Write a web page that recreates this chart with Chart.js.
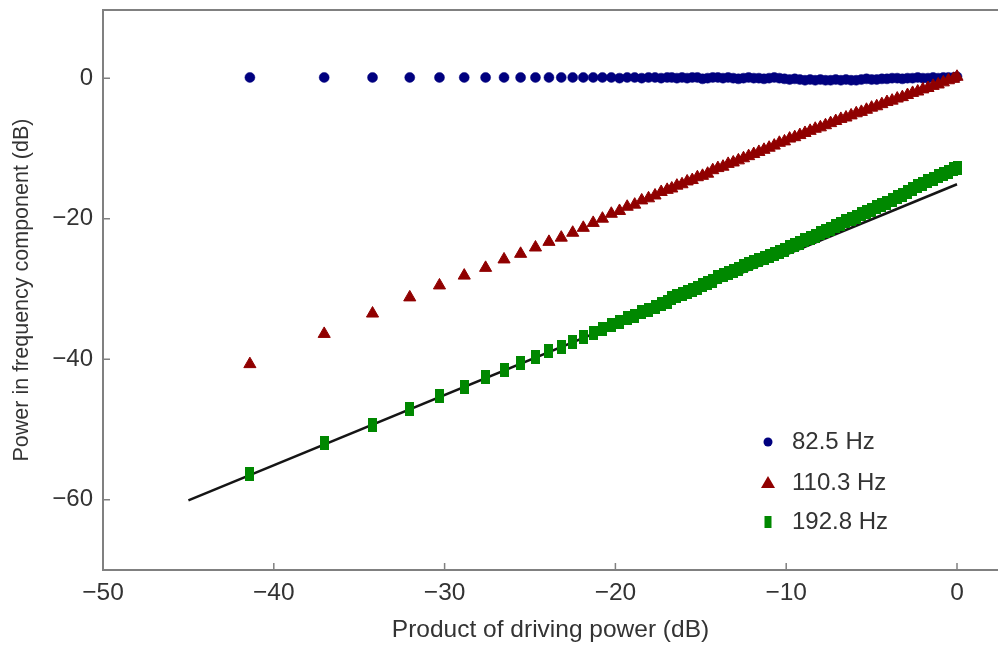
<!DOCTYPE html>
<html>
<head>
<meta charset="utf-8">
<title>Power in frequency component</title>
<script src="https://cdn.jsdelivr.net/npm/chart.js@4/dist/chart.umd.min.js"></script>
<style>
  body { margin: 0; background: #fff; }
  canvas { display: block; }
</style>
</head>
<body>
<canvas id="powerChart" width="998" height="645"></canvas>
<script>
// driving power product (dB), shared by the three frequency components
const drivePower = [
    -41.40, -37.05, -34.22, -32.04, -30.30, -28.85, -27.60, -26.52, -25.55, -24.68,
    -23.89, -23.17, -22.50, -21.88, -21.30, -20.76, -20.24, -19.76, -19.31, -18.87,
    -18.46, -18.06, -17.68, -17.32, -16.97,
    -16.7, -16.4, -16.1, -15.8, -15.5, -15.2, -14.9, -14.6, -14.3, -14.0,
    -13.7, -13.4, -13.1, -12.8, -12.5, -12.2, -11.9, -11.6, -11.3, -11.0,
    -10.7, -10.4, -10.1, -9.8, -9.5, -9.2, -8.9, -8.6, -8.3, -8.0,
    -7.7, -7.4, -7.1, -6.8, -6.5, -6.2, -5.9, -5.6, -5.3, -5.0,
    -4.7, -4.4, -4.1, -3.8, -3.5, -3.2, -2.9, -2.6, -2.3, -2.0,
    -1.7, -1.4, -1.1, -0.8, -0.5, -0.2, 0.0
];

const power825 = [
    0.1, 0.1, 0.1, 0.1, 0.1, 0.1, 0.1, 0.1, 0.1, 0.1,
    0.1, 0.1, 0.1, 0.1, 0.1, 0.1, 0.1, 0.0, 0.1, 0.1,
    0.0, 0.1, 0.1, 0.0, 0.1,
    0.1, 0.0, 0.1, 0.0, 0.1, 0.1, -0.1, 0.0, 0.1, 0.1,
    0.0, 0.1, 0.0, -0.1, 0.0, 0.1, 0.0, 0.0, -0.1, 0.0,
    0.1, 0.0, -0.1, -0.2, -0.1, -0.2, -0.3, -0.2, -0.3, -0.2,
    -0.3, -0.3, -0.2, -0.3, -0.2, -0.3, -0.3, -0.2, -0.1, -0.2,
    -0.2, -0.1, -0.1, 0.0, 0.0, -0.1, 0.0, 0.0, 0.1, 0.0,
    0.0, 0.1, 0.0, 0.1, 0.1, 0.1, 0.2
];

const power1103 = [
    -40.7, -36.4, -33.5, -31.2, -29.5, -28.1, -27.0, -25.8, -25.0, -24.1,
    -23.3, -22.7, -22.0, -21.3, -20.6, -20.0, -19.3, -18.9, -18.3, -18.0,
    -17.4, -17.1, -16.7, -16.2, -15.9,
    -15.7, -15.3, -15.1, -14.7, -14.5, -14.1, -13.9, -13.6, -13.1, -12.8,
    -12.6, -12.2, -12.0, -11.7, -11.4, -11.1, -10.8, -10.5, -10.2, -9.9,
    -9.6, -9.2, -9.0, -8.6, -8.4, -8.1, -7.8, -7.5, -7.2, -7.0,
    -6.7, -6.4, -6.1, -5.8, -5.6, -5.3, -5.0, -4.8, -4.5, -4.2,
    -4.0, -3.7, -3.4, -3.2, -2.9, -2.7, -2.4, -2.1, -1.9, -1.6,
    -1.4, -1.1, -0.9, -0.6, -0.3, -0.1, 0.2
];

const power1928 = [
    -56.3, -51.9, -49.4, -47.1, -45.3, -43.9, -42.6, -41.5, -40.5, -39.7,
    -38.9, -38.2, -37.5, -36.9, -36.3, -35.7, -35.1, -34.7, -34.2, -33.8,
    -33.3, -33.0, -32.5, -32.2, -31.8,
    -31.3, -31.0, -30.7, -30.4, -30.1, -29.8, -29.5, -29.1, -28.8, -28.3,
    -28.0, -27.7, -27.4, -27.1, -26.8, -26.5, -26.2, -25.9, -25.6, -25.3,
    -25.0, -24.7, -24.4, -24.0, -23.7, -23.4, -23.1, -22.8, -22.4, -22.1,
    -21.8, -21.4, -21.1, -20.8, -20.4, -20.1, -19.8, -19.4, -19.1, -18.7,
    -18.4, -18.0, -17.7, -17.3, -16.9, -16.6, -16.2, -15.8, -15.4, -15.1,
    -14.7, -14.3, -13.9, -13.6, -13.3, -13.0, -12.8
];

// straight reference line under the 192.8 Hz points
const fitX = [-45, 0];
const fitY = [-60.1, -15.1];

const seriesLabels = ['82.5 Hz', '110.3 Hz', '192.8 Hz'];
const xTickValues = [-50, -40, -30, -20, -10, 0];
const yTickValues = [-60, -40, -20, 0];

const BLUE = '#00007f';
const RED = '#900000';
const GREEN = '#008800';
const AXIS_GREY = '#808080';
const TEXT = '#333333';
const FONT = "'Liberation Sans', Arial, sans-serif";

function toPoints(xs, ys) {
    return xs.map((x, i) => ({x: x, y: ys[i]}));
}

function makeBar(w, h, color) {
    const c = document.createElement('canvas');
    c.width = w;
    c.height = h;
    const g = c.getContext('2d');
    g.fillStyle = color;
    g.fillRect(0, 0, w, h);
    return c;
}

function minusLabel(v) {
    return v < 0 ? '\u2212' + Math.abs(v) : String(v);
}

// ticks pointing into the plot, the top frame line and the legend
const frameAndLegend = {
    id: 'frameAndLegend',
    afterDraw(chart) {
        const {ctx, chartArea: a, scales: {x, y}} = chart;
        ctx.save();
        ctx.strokeStyle = AXIS_GREY;
        ctx.lineWidth = 2;
        ctx.beginPath();
        ctx.moveTo(a.left, a.top);
        ctx.lineTo(a.right, a.top);
        ctx.stroke();

        ctx.lineWidth = 1.5;
        ctx.beginPath();
        xTickValues.forEach(v => {
            const px = x.getPixelForValue(v);
            ctx.moveTo(px, a.bottom);
            ctx.lineTo(px, a.bottom - 7);
        });
        yTickValues.forEach(v => {
            const py = y.getPixelForValue(v);
            ctx.moveTo(a.left, py);
            ctx.lineTo(a.left + 7, py);
        });
        ctx.stroke();

        // legend, lower right of the plot
        const mx = 768;
        const rows = [442, 483, 522];
        ctx.fillStyle = BLUE;
        ctx.beginPath();
        ctx.arc(mx, rows[0], 4.5, 0, Math.PI * 2);
        ctx.fill();

        ctx.fillStyle = RED;
        ctx.beginPath();
        ctx.moveTo(mx, rows[1] - 7);
        ctx.lineTo(mx + 7, rows[1] + 5);
        ctx.lineTo(mx - 7, rows[1] + 5);
        ctx.closePath();
        ctx.fill();

        ctx.fillStyle = GREEN;
        ctx.fillRect(mx - 3.5, rows[2] - 6, 7, 12);

        ctx.fillStyle = TEXT;
        ctx.font = '24px ' + FONT;
        ctx.textBaseline = 'middle';
        ctx.textAlign = 'left';
        seriesLabels.forEach((label, i) => {
            ctx.fillText(label, mx + 24, rows[i]);
        });
        ctx.restore();
    }
};

document.addEventListener('DOMContentLoaded', () => {
    const ctx = document.getElementById('powerChart').getContext('2d');

    new Chart(ctx, {
        type: 'scatter',
        data: {
            datasets: [
                {
                    label: seriesLabels[1],
                    data: toPoints(drivePower, power1103),
                    pointStyle: 'triangle',
                    pointRadius: 7,
                    pointBackgroundColor: RED,
                    pointBorderColor: RED,
                    pointBorderWidth: 1
                },
                {
                    label: seriesLabels[0],
                    data: toPoints(drivePower, power825),
                    pointStyle: 'circle',
                    pointRadius: 5,
                    pointBackgroundColor: BLUE,
                    pointBorderColor: BLUE,
                    pointBorderWidth: 0.5
                },
                {
                    label: seriesLabels[2],
                    data: toPoints(drivePower, power1928),
                    pointStyle: makeBar(9, 14, GREEN),
                    pointBackgroundColor: GREEN,
                    pointBorderWidth: 0
                },
                {
                    label: 'fit',
                    data: toPoints(fitX, fitY),
                    showLine: true,
                    borderColor: '#151515',
                    borderWidth: 2.5,
                    pointRadius: 0,
                    fill: false
                }
            ]
        },
        options: {
            responsive: false,
            animation: false,
            devicePixelRatio: 1,
            layout: {
                autoPadding: false,
                padding: {top: 10, right: 0, bottom: 0, left: 0}
            },
            plugins: {
                legend: {display: false},
                tooltip: {enabled: false}
            },
            scales: {
                x: {
                    type: 'linear',
                    position: 'bottom',
                    min: -50,
                    max: 2.4,
                    afterFit: s => {
                        s.height = 75;
                        s.paddingLeft = 0;
                        s.paddingRight = 0;
                    },
                    afterBuildTicks: s => { s.ticks = xTickValues.map(v => ({value: v})); },
                    grid: {display: false, drawTicks: false},
                    border: {display: true, color: AXIS_GREY, width: 2},
                    ticks: {
                        autoSkip: false,
                        maxRotation: 0,
                        padding: 9,
                        color: TEXT,
                        font: {family: FONT, size: 24.5},
                        callback: v => minusLabel(v)
                    },
                    title: {
                        display: true,
                        text: 'Product of driving power (dB)',
                        color: TEXT,
                        font: {family: FONT, size: 24.5},
                        padding: {top: 0, bottom: 0}
                    }
                },
                y: {
                    type: 'linear',
                    min: -70,
                    max: 9.7,
                    afterFit: s => {
                        s.width = 103;
                        s.paddingTop = 0;
                        s.paddingBottom = 0;
                    },
                    afterBuildTicks: s => { s.ticks = yTickValues.map(v => ({value: v})); },
                    grid: {display: false, drawTicks: false},
                    border: {display: true, color: AXIS_GREY, width: 2},
                    ticks: {
                        autoSkip: false,
                        padding: 10,
                        color: TEXT,
                        font: {family: FONT, size: 24},
                        callback: v => minusLabel(v)
                    },
                    title: {
                        display: true,
                        text: 'Power in frequency component (dB)',
                        color: TEXT,
                        font: {family: FONT, size: 21.5},
                        padding: {top: 9, bottom: 0}
                    }
                }
            }
        },
        plugins: [frameAndLegend]
    });
});
</script>
</body>
</html>
